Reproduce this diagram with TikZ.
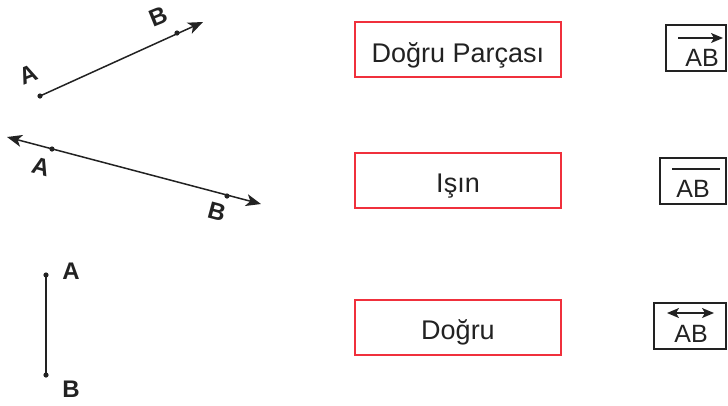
\documentclass[tikz,border=0pt]{standalone}
\usepackage{fontspec}
\setmainfont{Liberation Sans}
\usetikzlibrary{arrows.meta}
\definecolor{boxred}{HTML}{F0303C}
\definecolor{ink}{HTML}{222222}
\begin{document}
\begin{tikzpicture}[x=1pt,y=-1pt,
  redbox/.style={draw=boxred,line width=2pt,minimum width=206pt,minimum height=55pt,inner sep=0pt,
     font=\fontsize{27}{30}\selectfont,text=ink,text height=25.5pt,text depth=0pt},
  symbox/.style={draw=ink,line width=1.6pt,minimum height=46pt,inner sep=0pt},
  symtext/.style={font=\fontsize{25}{28}\selectfont,text=ink,inner sep=0pt},
  ptlabel/.style={font=\bfseries\fontsize{24}{26}\selectfont,text=ink,inner sep=0pt},
  geo/.style={draw=ink,line width=1.5pt},
  tip/.style={-{Stealth[length=15pt,width=12pt,inset=4pt]}},
  dtip/.style={{Stealth[length=15pt,width=12pt,inset=4pt]}-{Stealth[length=15pt,width=12pt,inset=4pt]}},
  stip/.style={-{Stealth[length=12pt,width=10pt,inset=3pt]}},
  dstip/.style={{Stealth[length=12pt,width=10pt,inset=3pt]}-{Stealth[length=12pt,width=10pt,inset=3pt]}},
  dot/.style={fill=ink}]
\clip (0,0) rectangle (728,405);
% ---- figure 1 : ray
\coordinate (a1) at (40,96);
\coordinate (b1) at (177,33);
\coordinate (e1) at (203,22);
\draw[geo,tip] (a1) -- (e1);
\fill[dot] (a1) circle (2.6pt) (b1) circle (2.6pt);
\node[ptlabel,rotate=22] (la1) at (28,75) {A};
\node[ptlabel,rotate=22] (lb1) at (158,17) {B};
% ---- figure 2 : line
\coordinate (a2) at (52,149);
\coordinate (b2) at (227,196);
\coordinate (s2) at (7,137);
\coordinate (e2) at (261,204);
\draw[geo,dtip] (s2) -- (e2);
\fill[dot] (a2) circle (2.6pt) (b2) circle (2.6pt);
\node[ptlabel,rotate=-15] (la2) at (41,167) {A};
\node[ptlabel,rotate=-15] (lb2) at (217,212) {B};
% ---- figure 3 : segment
\coordinate (a3) at (46,275);
\coordinate (b3) at (46,375);
\draw[geo] (a3) -- (b3);
\fill[dot] (a3) circle (2.6pt) (b3) circle (2.6pt);
\node[ptlabel] (la3) at (71,271) {A};
\node[ptlabel] (lb3) at (71,389) {B};
% ---- names
\node[redbox] (n1) at (458,49.5) {Doğru Parçası};
\node[redbox] (n2) at (458,180) {Işın};
\node[redbox] (n3) at (458,327) {Doğru};
% ---- symbols
\node[symbox,minimum width=60pt] (s1) at (696,48) {};
\node[symtext] (t1) at (702,57.5) {AB};
\coordinate (p1) at (678,38);
\coordinate (q1) at (723,38);
\draw[geo,stip] (p1) -- (q1);
\node[symbox,minimum width=66pt] (s2b) at (693,181) {};
\node[symtext] (t2) at (693,189) {AB};
\coordinate (p2) at (672,169);
\coordinate (q2) at (720,169);
\draw[geo] (p2) -- (q2);
\node[symbox,minimum width=72pt] (s3) at (690,326) {};
\node[symtext] (t3) at (691,333.5) {AB};
\coordinate (p3) at (667,313);
\coordinate (q3) at (714,313);
\draw[geo,dstip] (p3) -- (q3);
\end{tikzpicture}
\end{document}
